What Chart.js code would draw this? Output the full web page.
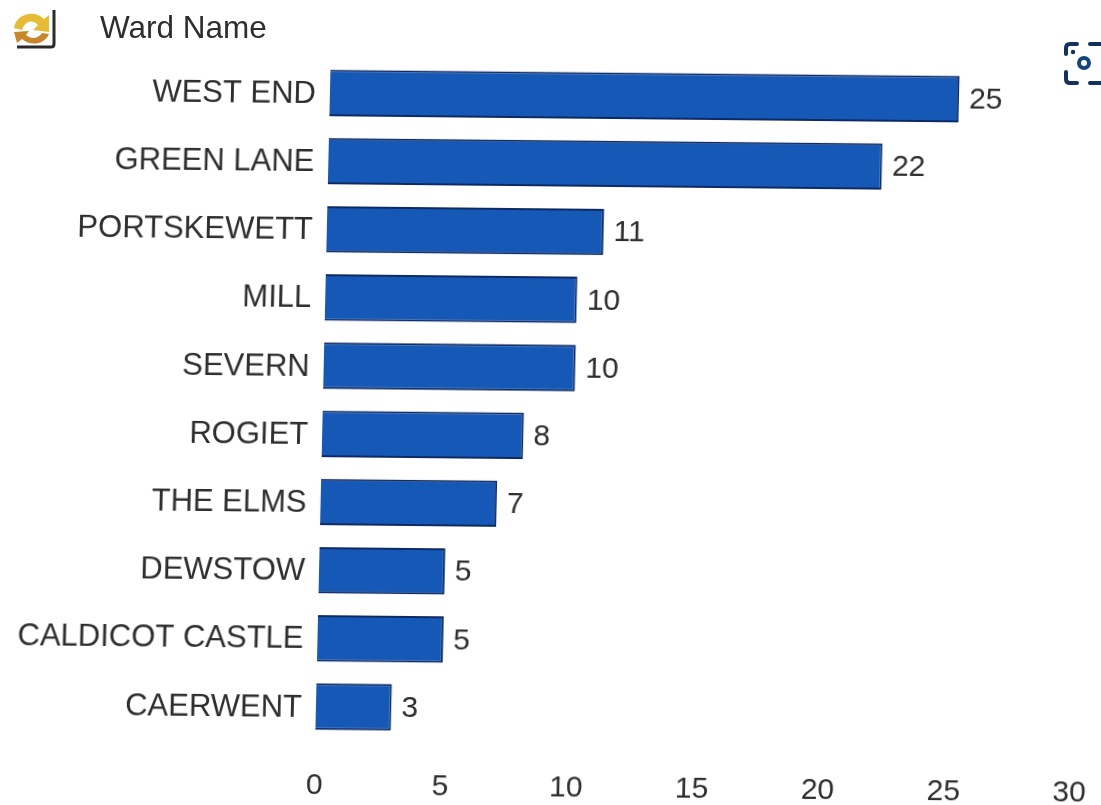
<!DOCTYPE html>
<html>
<head>
<meta charset="utf-8">
<title>Ward Name</title>
<script src="https://cdn.jsdelivr.net/npm/chart.js@4"></script>
<style>
  html, body { margin: 0; padding: 0; background: #fff; overflow: hidden; width: 1101px; height: 805px; }
  #wardChart { position: absolute; left: 0; top: 0; transform-origin: 0 0; transform: matrix(1, 0.0098, -0.0228, 1, 0, 0); }
  #heading { position: absolute; left: 100px; top: 9px; font: 31.5px "Liberation Sans", Arial, sans-serif; color: #2e2e2e; }
  #refreshIcon { position: absolute; left: 10px; top: 6px; }
  #cameraIcon { position: absolute; left: 1063px; top: 41px; }
</style>
</head>
<body>
<canvas id="wardChart" width="1125" height="830"></canvas>
<div id="heading">Ward Name</div>
<svg id="refreshIcon" width="48" height="46" viewBox="0 0 48 46">
  <path d="M44 4 V38 Q44 41 41 41 H7" fill="none" stroke="#2b2b2b" stroke-width="3"/>
  <path d="M4 22 C6 8 24 3 34 13 L39 9 L39 26 L23 24 L28 19 C22 13 15 15 12 24 Z" fill="#e6bb35"/>
  <path d="M39 28 C35 38 21 41 12 33 L7 37 L4 26 L19 25 L16 29 C22 34 29 32 32 27 Z" fill="#c8862a"/>
</svg>
<svg id="cameraIcon" width="39" height="46" viewBox="0 0 39 46" fill="none" stroke="#14305f" stroke-width="4" stroke-linecap="round">
  <path d="M3 13 V7 Q3 3 7 3 H14"/>
  <path d="M27 3 H38"/>
  <path d="M3 31 V38 Q3 42 7 42 H14"/>
  <path d="M27 42 H38"/>
  <circle cx="21" cy="22" r="5" stroke="#14447f"/>
  <circle cx="10" cy="11" r="2.2" fill="#14305f" stroke="none"/>
</svg>
<script>
const wards = ["WEST END", "GREEN LANE", "PORTSKEWETT", "MILL", "SEVERN", "ROGIET", "THE ELMS", "DEWSTOW", "CALDICOT CASTLE", "CAERWENT"];
const counts = [25, 22, 11, 10, 10, 8, 7, 5, 5, 3];
const axisTicks = [0, 5, 10, 15, 20, 25, 30];

const fontFamily = '"Liberation Sans", Arial, sans-serif';
const textColor = "#2e2e2e";

// prints each count just past the end of its bar
const valueLabels = {
  id: "valueLabels",
  afterDatasetsDraw(chart) {
    const { ctx } = chart;
    const meta = chart.getDatasetMeta(0);
    ctx.save();
    ctx.font = "30px " + fontFamily;
    ctx.fillStyle = textColor;
    ctx.textAlign = "left";
    ctx.textBaseline = "middle";
    meta.data.forEach((bar, i) => {
      ctx.fillText(counts[i], bar.x + 10, bar.y + 1);
    });
    ctx.restore();
  }
};

new Chart(document.getElementById("wardChart"), {
  type: "bar",
  data: {
    labels: wards,
    datasets: [{
      data: counts,
      backgroundColor: "#1558b5",
      borderColor: "#0e2a66",
      borderWidth: 2,
      categoryPercentage: 1,
      barPercentage: 0.68
    }]
  },
  options: {
    indexAxis: "y",
    responsive: false,
    animation: false,
    layout: { padding: { top: 55.6, right: 38, bottom: 0, left: 0 } },
    plugins: { legend: { display: false }, title: { display: false }, tooltip: { enabled: false } },
    scales: {
      x: {
        min: axisTicks[0],
        max: axisTicks[axisTicks.length - 1],
        grid: { display: false },
        border: { display: false },
        afterBuildTicks(scale) { scale.ticks = axisTicks.map(value => ({ value })); },
        afterFit(scale) { scale.height = 92.4; },
        ticks: { padding: 19, font: { family: fontFamily, size: 30 }, color: textColor, maxRotation: 0 }
      },
      y: {
        grid: { display: false },
        border: { display: false },
        afterFit(scale) { scale.width = 332; },
        ticks: { padding: 6, labelOffset: 1.5, font: { family: fontFamily, size: 31 }, color: textColor, autoSkip: false }
      }
    }
  },
  plugins: [valueLabels]
});
</script>
</body>
</html>
